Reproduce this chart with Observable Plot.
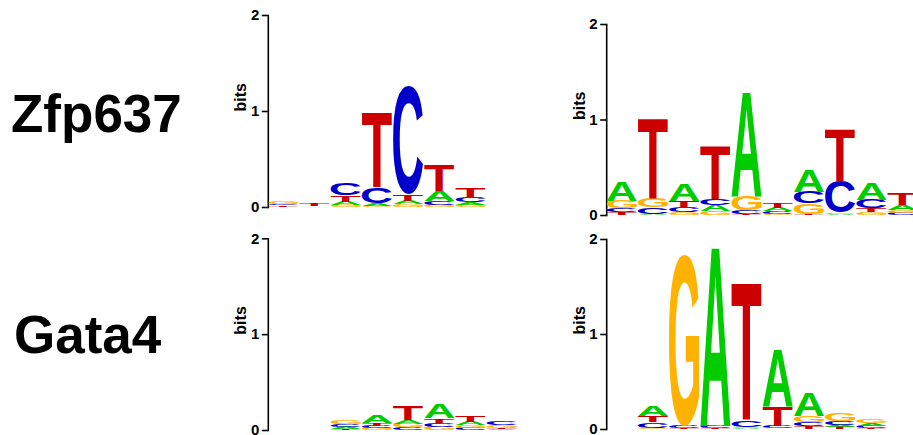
<!DOCTYPE html>
<html><head><meta charset="utf-8">
<script src="https://cdn.jsdelivr.net/npm/d3@7"></script>
<script src="https://cdn.jsdelivr.net/npm/@observablehq/plot@0.6"></script>
<style>
html,body{margin:0;padding:0;background:#fff;overflow:hidden;}
#root{position:relative;width:913px;height:435px;overflow:hidden;font-family:"Liberation Sans",Arial,sans-serif;}
.panel{position:absolute;width:360px;}
.panel svg{max-width:none !important;}
.panel svg line, .panel svg path{stroke-width:1.6px;}
.panel svg g[aria-label^="y-axis"]{font-size:15px;font-weight:bold;}
#labels{position:absolute;left:0;top:0;}
</style></head><body><div id="root"></div>
<script>
// ---------------- data ----------------
const letters = ["A", "C", "G", "T"];
const letterColors = ["#00CC00", "#0000CC", "#FFB300", "#CC0000"];
const rowLabels = ["Zfp637", "Gata4"];
const yTicks = [0, 1, 2];
const yLabel = "bits";

// Zfp637, left logo (9 positions), information content (bits) per letter
const zfpLeftA = [0.004, 0.003, 0.035, 0.03, 0.035, 0.11, 0.03, 0.003, 0];
const zfpLeftC = [0.018, 0.003, 0.12, 0.17, 1.13, 0.035, 0.05, 0.003, 0];
const zfpLeftG = [0.022, 0.005, 0.02, 0.01, 0.03, 0.025, 0.02, 0.003, 0];
const zfpLeftT = [0.012, 0.02, 0.07, 0.78, 0.07, 0.27, 0.09, 0.003, 0];

// Zfp637, right logo (10 positions)
const zfpRightA = [0.2, 0.01, 0.17, 0.06, 1.1, 0.035, 0.23, 0.01, 0.17, 0.05];
const zfpRightC = [0.04, 0.07, 0.05, 0.07, 0.04, 0.03, 0.12, 0.33, 0.09, 0.02];
const zfpRightG = [0.08, 0.1, 0.03, 0.04, 0.15, 0.01, 0.11, 0.015, 0.03, 0.03];
const zfpRightT = [0.03, 0.84, 0.07, 0.56, 0.01, 0.05, 0.01, 0.54, 0.04, 0.12];

// Gata4, left logo (9 positions)
const gataLeftA = [0, 0, 0.02, 0.08, 0.04, 0.15, 0.035, 0.01, 0];
const gataLeftC = [0, 0, 0.03, 0.025, 0.03, 0.04, 0.02, 0.045, 0];
const gataLeftG = [0, 0, 0.04, 0.02, 0.035, 0.035, 0.03, 0.025, 0];
const gataLeftT = [0, 0, 0.015, 0.027, 0.15, 0.045, 0.065, 0.015, 0];

// Gata4, right logo (10 positions)
const gataRightA = [0, 0.11, 0.005, 1.9, 0.01, 0.6, 0.24, 0.025, 0.03, 0];
const gataRightC = [0, 0.06, 0.02, 0.02, 0.07, 0.03, 0.04, 0.04, 0.025, 0];
const gataRightG = [0, 0.01, 1.81, 0.005, 0.01, 0.005, 0.07, 0.085, 0.035, 0];
const gataRightT = [0, 0.07, 0.006, 0.006, 1.45, 0.21, 0.03, 0.02, 0.01, 0];

// ---------------- helpers ----------------
const NS = "http://www.w3.org/2000/svg";
const FONT = "Liberation Sans";
const colorOf = Object.fromEntries(letters.map((l, i) => [l, letterColors[i]]));

// ink metrics of each glyph (measured, so letters fill their boxes exactly)
const metrics = (() => {
  const ctx = document.createElement("canvas").getContext("2d");
  ctx.font = `bold 100px "${FONT}"`;
  ctx.textAlign = "start";
  ctx.textBaseline = "alphabetic";
  const out = {};
  for (const L of letters) {
    const m = ctx.measureText(L);
    out[L] = {
      left: m.actualBoundingBoxLeft,
      w: m.actualBoundingBoxLeft + m.actualBoundingBoxRight,
      desc: m.actualBoundingBoxDescent,
      h: m.actualBoundingBoxAscent + m.actualBoundingBoxDescent
    };
  }
  return out;
})();

function buildRows(cols) {
  const rows = [];
  const n = cols.A.length;
  for (let i = 0; i < n; i++) {
    const stack = letters
      .map(L => ({letter: L, h: cols[L][i]}))
      .filter(d => d.h > 0)
      .sort((a, b) => a.h - b.h);
    let b = 0;
    for (const s of stack) {
      rows.push({pos: i + 1, letter: s.letter, y1: b, y2: b + s.h});
      b += s.h;
    }
  }
  return rows;
}

function letterMark(rows) {
  return function(index, scales) {
    const x = scales.x, y = scales.y;
    const bw = x.bandwidth ? x.bandwidth() : 31.2;
    const g = document.createElementNS(NS, "g");
    g.setAttribute("aria-label", "letters");
    g.setAttribute("text-anchor", "start");
    for (const r of rows) {
      const m = metrics[r.letter];
      const x0 = x(r.pos) + 0.5, w = bw - 1;
      const yb = y(r.y1), yt = y(r.y2), h = yb - yt;
      if (h < 0.3) continue;
      const sx = w / m.w, sy = h / m.h;
      const t = document.createElementNS(NS, "text");
      t.setAttribute("transform", `translate(${x0 + m.left * sx},${yb - m.desc * sy}) scale(${sx},${sy})`);
      t.setAttribute("text-anchor", "start");
      t.setAttribute("font-family", FONT);
      t.setAttribute("font-weight", "bold");
      t.setAttribute("font-size", "100");
      t.setAttribute("fill", colorOf[r.letter]);
      t.textContent = r.letter;
      g.appendChild(t);
    }
    return g;
  };
}

// ---------------- layout ----------------
const panels = [
  {cols: {A: zfpLeftA, C: zfpLeftC, G: zfpLeftG, T: zfpLeftT}, left: 200, top: 0, width: 360, height: 212, marginLeft: 67.8, marginRight: 11.4, marginTop: 15, marginBottom: 5},
  {cols: {A: zfpRightA, C: zfpRightC, G: zfpRightG, T: zfpRightT}, left: 560, top: 0, width: 360, height: 220, marginLeft: 46.2, marginRight: 1.8, marginTop: 24, marginBottom: 5},
  {cols: {A: gataLeftA, C: gataLeftC, G: gataLeftG, T: gataLeftT}, left: 200, top: 225, width: 360, height: 210, marginLeft: 67.8, marginRight: 11.4, marginTop: 13.3, marginBottom: 5},
  {cols: {A: gataRightA, C: gataRightC, G: gataRightG, T: gataRightT}, left: 560, top: 225, width: 360, height: 209, marginLeft: 46.2, marginRight: 1.8, marginTop: 14, marginBottom: 5}
];

const root = document.getElementById("root");

for (const p of panels) {
  const rows = buildRows(p.cols);
  const positions = d3.range(1, p.cols.A.length + 1);
  const chart = Plot.plot({
    width: p.width,
    height: p.height,
    marginLeft: p.marginLeft,
    marginRight: p.marginRight,
    marginTop: p.marginTop,
    marginBottom: p.marginBottom,
    style: {fontFamily: FONT, fontWeight: "bold", fontSize: "15px", color: "#000", background: "transparent", overflow: "visible", maxWidth: "none"},
    x: {type: "band", domain: positions, padding: 0, round: false, axis: null},
    y: {domain: [0, 2], ticks: yTicks, tickFormat: d3.format("d"), tickSize: 6, tickPadding: 3, line: true, label: null},
    marks: [
      Plot.barY(rows, {x: "pos", y1: "y1", y2: "y2", fill: "none", stroke: "none"}),
      letterMark(rows),
      Plot.text([yLabel], {frameAnchor: "left", rotate: -90, dx: -27, text: d => d, fontSize: 16, fontWeight: "bold", fill: "#000"})
    ]
  });
  const holder = document.createElement("div");
  holder.className = "panel";
  holder.style.left = p.left + "px";
  holder.style.top = p.top + "px";
  holder.appendChild(chart);
  root.appendChild(holder);
}

// row labels
const lab = document.createElementNS(NS, "svg");
lab.setAttribute("id", "labels");
lab.setAttribute("width", 200);
lab.setAttribute("height", 435);
const labelPos = [[11, 132], [14, 353]];
rowLabels.forEach((s, i) => {
  const t = document.createElementNS(NS, "text");
  t.setAttribute("x", labelPos[i][0]);
  t.setAttribute("y", labelPos[i][1]);
  t.setAttribute("font-family", FONT);
  t.setAttribute("font-weight", "bold");
  t.setAttribute("font-size", "53");
  t.setAttribute("fill", "#000");
  t.textContent = s;
  lab.appendChild(t);
});
root.appendChild(lab);
</script>
</body></html>
